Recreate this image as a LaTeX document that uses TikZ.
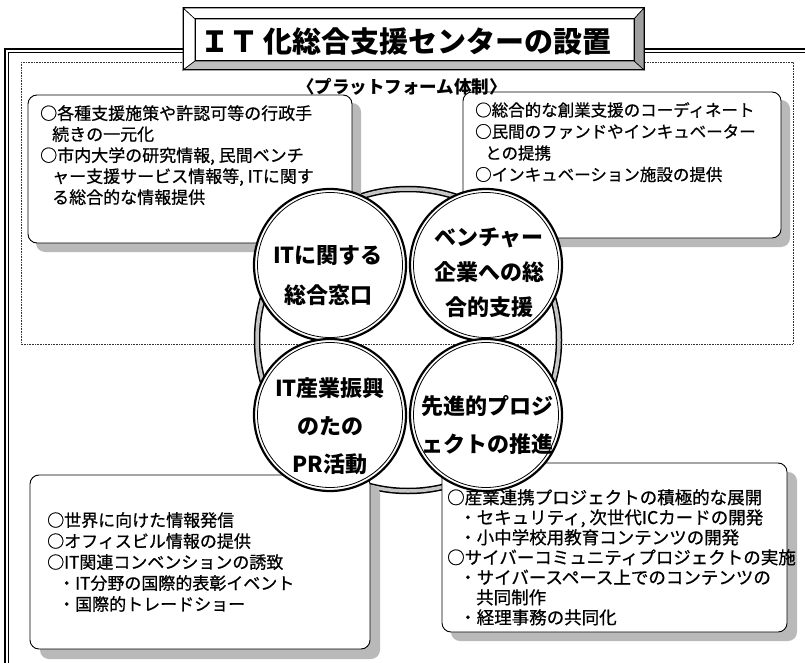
\documentclass[tikz,border=0pt]{standalone}
\usepackage{fontspec}
\newfontfamily\jp{Noto Sans CJK JP}
\newfontfamily\jpm{Noto Sans CJK JP}[FakeBold=0.7]
\begin{document}
\begin{tikzpicture}[x=1pt,y=-1pt,
  panel/.style={draw=black, line width=0.9pt, fill=white, rounded corners=9pt},
  panelshadow/.style={fill=gray!55, rounded corners=9pt},
  paneltext/.style={anchor=north west, align=left, inner sep=0pt, font=\jpm\fontsize{17}{21}\selectfont},
  hub/.style={circle, draw=black, line width=2.2pt, fill=white, minimum size=152pt, inner sep=0pt},
  hubtext/.style={align=center, inner sep=0pt},
  bevel/.style={draw=black, line width=0.6pt},
]
\useasboundingbox (0,0) rectangle (805,663);
\clip (0,0) rectangle (805,663);
% outer double frame
\draw[line width=1.6pt] (5,680) -- (5,49) -- (820,49);
\draw[line width=0.7pt] (8.5,680) -- (8.5,52.5) -- (820,52.5);
% dotted platform frame
\draw[densely dotted, line width=0.6pt, black!80] (21,62) rectangle (793,344);
% big ring
\coordinate (ringc) at (408,340);
\draw[line width=6.5pt] (ringc) circle (151pt);
\draw[line width=3.5pt, gray!45] (ringc) circle (151pt);
% top-left panel
\fill[panelshadow] (36,103) rectangle (361,252);
\draw[panel] (28,95) rectangle (352,243);
\node[paneltext] (p1) at (40,105) {○各種支援施策や許認可等の行政手\\\hspace*{12pt}続きの一元化\\○市内大学の研究情報, 民間ベンチ\\\hspace*{12pt}ャー支援サービス情報等, ITに関す\\\hspace*{12pt}る総合的な情報提供};
% top-right panel
\fill[panelshadow] (471,100) rectangle (790,247);
\draw[panel] (463,92) rectangle (781,238);
\node[paneltext, font=\jpm\fontsize{16.5}{21.5}\selectfont] (p2) at (475,102) {○総合的な創業支援のコーディネート\\○民間のファンドやインキュベーター\\\hspace*{10pt}との提携\\○インキュベーション施設の提供};
% bottom-left panel
\fill[panelshadow] (40,485) rectangle (380,659);
\draw[panel] (30,475) rectangle (370,649);
\node[paneltext] (p3) at (47,512) {○世界に向けた情報発信\\○オフィスビル情報の提供\\○IT関連コンベンションの誘致\\\hspace*{11pt}・IT分野の国際的表彰イベント\\\hspace*{11pt}・国際的トレードショー};
% bottom-right panel
\fill[panelshadow] (451,472) rectangle (797,641);
\draw[panel] (442,463) rectangle (787,632);
\node[paneltext, font=\jpm\fontsize{17.5}{20}\selectfont] (p4) at (447,489) {○産業連携プロジェクトの積極的な展開\\\hspace*{12pt}・セキュリティ, 次世代ICカードの開発\\\hspace*{12pt}・小中学校用教育コンテンツの開発\\○サイバーコミュニティプロジェクトの実施\\\hspace*{12pt}・サイバースペース上でのコンテンツの\\\hspace*{29pt}共同制作\\\hspace*{12pt}・経理事務の共同化};
% four hub circles
\node[hub] (c1) at (330,265) {};
\node[hub] (c2) at (486,265) {};
\node[hub] (c3) at (330,415) {};
\node[hub] (c4) at (486,415) {};
\foreach \c in {c1,c2,c3,c4} \draw[line width=0.8pt] (\c.center) circle (72.5pt);
\node[hubtext, font=\jp\bfseries\fontsize{22}{40}\selectfont] (h1) at (328,276) {ITに関する\\総合窓口};
\node[hubtext, font=\jp\bfseries\fontsize{22}{35}\selectfont] (h2) at (489,273) {ベンチャー\\企業への総\\合的支援};
\node[hubtext, font=\jp\bfseries\fontsize{22}{38}\selectfont] (h3) at (330,426) {IT産業振興\\のたの\\PR活動};
\node[hubtext, font=\jp\bfseries\fontsize{22}{38}\selectfont] (h4) at (487,425) {先進的プロジ\\ェクトの推進};
% title plate
\fill[white] (183,8) rectangle (644,70);
\filldraw[bevel, fill=white] (183,8) -- (644,8) -- (634,19) -- (195,19) -- cycle;
\filldraw[bevel, fill=white] (183,8) -- (195,19) -- (195,61) -- (183,70) -- cycle;
\filldraw[bevel, fill=gray!75] (644,8) -- (644,70) -- (634,61) -- (634,19) -- cycle;
\filldraw[bevel, fill=gray!50] (183,70) -- (644,70) -- (634,61) -- (195,61) -- cycle;
\draw[line width=1pt] (183,8) rectangle (644,70);
\draw[line width=1pt] (195,19) rectangle (634,61);
\node[font=\jp\bfseries\fontsize{29}{29}\selectfont, inner sep=0pt] (title) at (406,41) {ＩＴ\hspace{6pt}化総合支援センターの設置};
% subtitle
\node[font=\jp\bfseries\fontsize{17.5}{17.5}\selectfont, inner sep=0pt] (sub) at (402,87) {〈プラットフォーム体制〉};
\end{tikzpicture}
\end{document}
